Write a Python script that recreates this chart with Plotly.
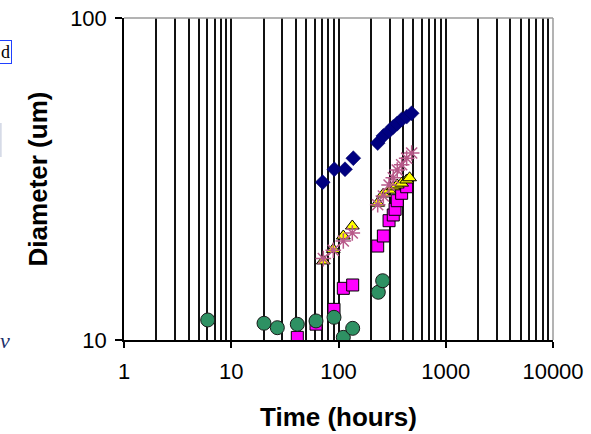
import plotly.graph_objects as go

# ---- data (time in hours, diameter in um) ----
blue_t = [71.2, 91.4, 115, 137.4, 232, 262, 296, 324, 353, 388, 432, 481]
blue_d = [30.9, 33.9, 33.9, 36.7, 40.9, 43.0, 44.6, 45.9, 47.0, 48.4, 49.4, 50.6]

magenta_t = [41.3, 61.7, 90.8, 110.9, 135.6, 232, 262, 296, 324, 337, 353, 388, 432]
magenta_d = [10.19, 11.2, 12.45, 14.47, 14.82, 19.58, 21.04, 23.47, 24.45, 25.46, 27.08, 28.55, 29.92]

yellow_t = [72.2, 89.4, 110.9, 134.5, 232, 262, 296, 324, 353, 388, 432, 460]
yellow_d = [17.6, 19.12, 21.04, 22.6, 26.6, 28.4, 29.2, 29.9, 30.3, 30.7, 31.4, 31.9]

star_t = [72.2, 89.4, 110.9, 134.5, 232, 262, 296, 324, 353, 388, 432, 481]
star_d = [17.9, 19.0, 20.3, 21.5, 26.3, 28.0, 30.3, 31.9, 33.7, 35.0, 36.7, 38.1]

green_t = [6.03, 20.2, 26.9, 41.3, 61.7, 90.8, 110.9, 135.6, 235, 258]
green_d = [11.54, 11.27, 10.92, 11.19, 11.46, 11.76, 10.19, 10.87, 14.07, 15.28]

x_tickvals = [1, 10, 100, 1000, 10000]
x_ticktext = ["1", "10", "100", "1000", "10000"]
y_tickvals = [10, 100]
y_ticktext = ["10", "100"]

FONT = "Liberation Sans, Arial, sans-serif"

fig = go.Figure()
fig.add_trace(go.Scatter(x=blue_t, y=blue_d, mode="markers",
                         marker=dict(symbol="diamond", size=11.5, color="#000080",
                                     line=dict(width=0.5, color="#000060"))))
fig.add_trace(go.Scatter(x=magenta_t, y=magenta_d, mode="markers",
                         marker=dict(symbol="square", size=12, color="#FF00FF",
                                     line=dict(width=1, color="#000000"))))
fig.add_trace(go.Scatter(x=yellow_t, y=yellow_d, mode="markers",
                         marker=dict(symbol="triangle-up", size=12, color="#FFFF00",
                                     line=dict(width=1, color="#000000"))))
fig.add_trace(go.Scatter(x=star_t, y=star_d, mode="markers",
                         marker=dict(symbol="asterisk-open", size=13, color="#B85A8A",
                                     line=dict(width=1.5, color="#B85A8A"))))
fig.add_trace(go.Scatter(x=green_t, y=green_d, mode="markers",
                         marker=dict(symbol="circle", size=14, color="#2E9163",
                                     line=dict(width=1, color="#1a1a1a"))))

fig.update_layout(
    width=591, height=434,
    margin=dict(l=124, r=38, t=18, b=94),
    paper_bgcolor="white", plot_bgcolor="white",
    showlegend=False,
    font=dict(family=FONT, size=22, color="black"),
    xaxis=dict(
        type="log", range=[0, 4], automargin=False,
        tickmode="array", tickvals=x_tickvals, ticktext=x_ticktext,
        ticks="outside", ticklen=6, tickwidth=1.5, tickcolor="black",
        showline=True, linecolor="black", linewidth=1.5,
        showgrid=True, gridcolor="#111111", gridwidth=1.5,
        minor=dict(dtick="D1", showgrid=True, gridcolor="#111111", gridwidth=1.5, ticks=""),
        zeroline=False,
        ticklabelstandoff=5,
        tickfont=dict(family=FONT, size=22),
        title=dict(text="<b>Time (hours)</b>", font=dict(family=FONT, size=26), standoff=25),
    ),
    yaxis=dict(
        type="log", range=[1, 2], automargin=False,
        tickmode="array", tickvals=y_tickvals, ticktext=y_ticktext,
        ticks="outside", ticklen=7, tickwidth=1.5, tickcolor="black",
        showline=True, linecolor="black", linewidth=1.5,
        showgrid=False, zeroline=False,
        ticklabelstandoff=4,
        tickfont=dict(family=FONT, size=22),
        title=dict(text="<b>Diameter (um)</b>", font=dict(family=FONT, size=26), standoff=15),
    ),
    shapes=[
        dict(type="line", xref="paper", yref="paper", x0=0, x1=1, y0=1, y1=1,
             line=dict(color="#9a9a9a", width=1.5)),
        dict(type="line", xref="paper", yref="paper", x0=1, x1=1, y0=0, y1=1,
             line=dict(color="#9a9a9a", width=1.5)),
        dict(type="line", xref="paper", yref="paper", x0=-0.287, x1=-0.287,
             y0=(340 - 157) / 322, y1=(340 - 123) / 322,
             line=dict(color="#d0d6e4", width=1.5)),
    ],
    annotations=[
        dict(text="d", xref="paper", yref="paper", x=(5 - 124) / 429, y=(340 - 52) / 322,
             xanchor="center", yanchor="middle", showarrow=False,
             font=dict(family="Liberation Serif, serif", size=18, color="black"),
             bordercolor="#2040ff", borderwidth=1, borderpad=1),
        dict(text="<i>v</i>", xref="paper", yref="paper", x=(5 - 124) / 429, y=(340 - 340) / 322,
             xanchor="center", yanchor="middle", showarrow=False,
             font=dict(family="Liberation Serif, serif", size=22, color="#1a2f6a")),
    ],
)

fig.write_html("out.html", config={"displayModeBar": False},
               post_script="document.body.style.margin='0';")
